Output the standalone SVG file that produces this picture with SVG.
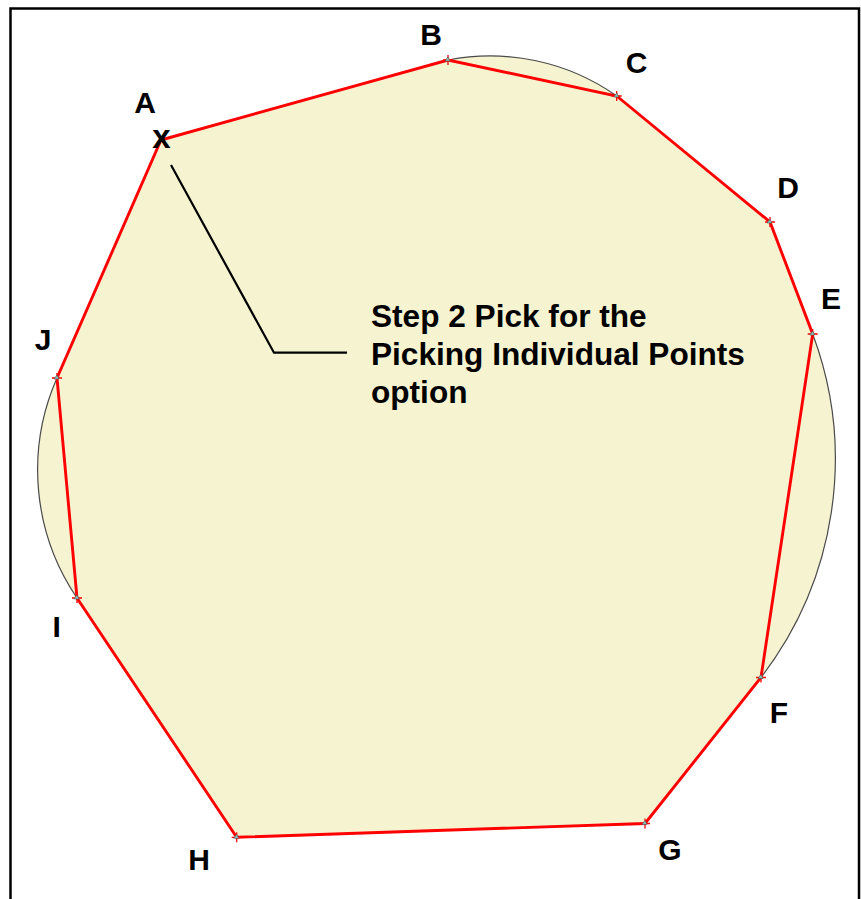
<svg xmlns="http://www.w3.org/2000/svg" xmlns:xlink="http://www.w3.org/1999/xlink" width="861" height="899" viewBox="0 0 861 899">
  <style>
    .lbl { font-family: "Liberation Sans", Arial, sans-serif; font-weight: bold; font-size: 30px; fill: #000; text-anchor: middle; }
    .mark { font-size: 33px; }
    .note { font-family: "Liberation Sans", Arial, sans-serif; font-weight: bold; font-size: 31.6px; fill: #000; }
    .poly { fill: none; stroke: #FF0000; stroke-width: 2.9; stroke-linejoin: miter; }
    .arc { fill: none; stroke: #4A4A4A; stroke-width: 1.2; }
    .lead { fill: none; stroke: #000; stroke-width: 2.2; }
  </style>
  <defs>
    <g id="pt">
      <path d="M-5 0 H5 M0 -5 V5" stroke="#FF0000" stroke-width="1.3" fill="none"/>
      <path d="M-3 1 L0 -3 L2 1 Z" fill="#7FC8C0" stroke="#555" stroke-width="0.6"/>
    </g>
  </defs>
  <rect width="861" height="899" fill="#FFFFFF"/>
  <rect x="10.5" y="8.5" width="848.5" height="900" fill="none" stroke="#000" stroke-width="2.5"/>

  <g id="region">
    <path d="M161 140 L448 60 A220 220 0 0 1 616.7 96 L770 222 L812.7 334 A358 358 0 0 1 761 677.5 L645 823.5 L236.7 837.3 L77 598 A228 228 0 0 1 57 378 Z" fill="#F6F3D1" stroke="none"/>
    <path class="arc" d="M448 60 A220 220 0 0 1 616.7 96"/>
    <path class="arc" d="M812.7 334 A358 358 0 0 1 761 677.5"/>
    <path class="arc" d="M77 598 A228 228 0 0 1 57 378"/>
  </g>

  <g id="polygon">
    <path class="poly" d="M161 140 L448 60 L616.7 96 L770 222 L812.7 334 L761 677.5 L645 823.5 L236.7 837.3 L77 598 L57 378 Z"/>
    <use xlink:href="#pt" href="#pt" x="448" y="60"/>
    <use xlink:href="#pt" href="#pt" x="616.7" y="96"/>
    <use xlink:href="#pt" href="#pt" x="770" y="222"/>
    <use xlink:href="#pt" href="#pt" x="812.7" y="334"/>
    <use xlink:href="#pt" href="#pt" x="761" y="677.5"/>
    <use xlink:href="#pt" href="#pt" x="645" y="823.5"/>
    <use xlink:href="#pt" href="#pt" x="236.7" y="837.3"/>
    <use xlink:href="#pt" href="#pt" x="77" y="598"/>
    <use xlink:href="#pt" href="#pt" x="57" y="378"/>
  </g>

  <g id="node-A"><text class="lbl" x="145" y="113">A</text><text class="lbl mark" x="161.5" y="148">x</text></g>
  <g id="node-B"><text class="lbl" x="431" y="45">B</text></g>
  <g id="node-C"><text class="lbl" x="636.7" y="73">C</text></g>
  <g id="node-D"><text class="lbl" x="788" y="198">D</text></g>
  <g id="node-E"><text class="lbl" x="831" y="309">E</text></g>
  <g id="node-F"><text class="lbl" x="779" y="723">F</text></g>
  <g id="node-G"><text class="lbl" x="670" y="860">G</text></g>
  <g id="node-H"><text class="lbl" x="199" y="870">H</text></g>
  <g id="node-I"><text class="lbl" x="56.7" y="637">I</text></g>
  <g id="node-J"><text class="lbl" x="43" y="350">J</text></g>

  <g id="note">
    <text class="note" x="371" y="327">Step 2 Pick for the</text>
    <text class="note" x="371" y="365">Picking Individual Points</text>
    <text class="note" x="371" y="403">option</text>
  </g>

  <g id="connectors">
    <path class="lead" d="M171 165 L274 352.7 L347 352.7"/>
  </g>
</svg>
